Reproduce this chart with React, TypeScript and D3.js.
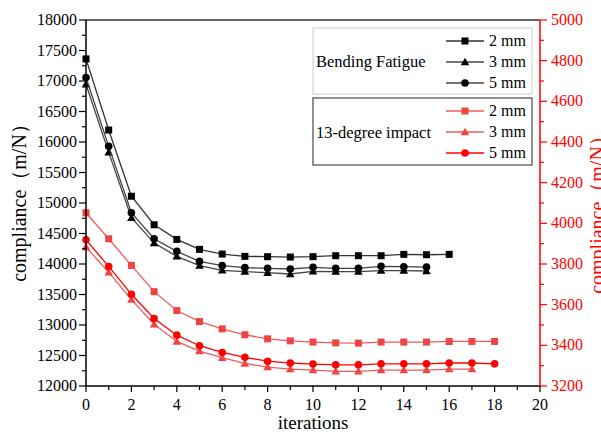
import React from "react";
import * as d3 from "d3";

const iterBlack2 = d3.range(0, 17);
const iterBlack35 = d3.range(0, 16);
const iterRed25 = d3.range(0, 19);
const iterRed3 = d3.range(0, 18);

const bend2 = [17362, 16196, 15111, 14643, 14403, 14240, 14163, 14125, 14120, 14114, 14120, 14136, 14136, 14136, 14158, 14152, 14158];
const bend3 = [16948, 15830, 14758, 14343, 14125, 13973, 13896, 13875, 13858, 13836, 13880, 13875, 13875, 13891, 13891, 13885];
const bend5 = [17057, 15929, 14840, 14414, 14207, 14043, 13973, 13940, 13929, 13918, 13945, 13929, 13929, 13962, 13956, 13950];

const imp2 = [4052, 3924, 3793, 3664, 3571, 3517, 3481, 3452, 3432, 3422, 3416, 3412, 3411, 3416, 3416, 3416, 3419, 3419, 3419];
const imp3 = [3883, 3759, 3625, 3504, 3419, 3372, 3339, 3311, 3293, 3283, 3278, 3272, 3272, 3278, 3278, 3278, 3283, 3283];
const imp5 = [3919, 3788, 3651, 3532, 3450, 3398, 3365, 3341, 3322, 3313, 3308, 3304, 3304, 3309, 3309, 3309, 3313, 3313, 3309];

const xTicks = d3.range(0, 21, 2);
const leftTicks = d3.range(12000, 18001, 500);
const rightTicks = d3.range(3200, 5001, 200);
const legendLabels = ["2 mm", "3 mm", "5 mm"];

const FONT = "'Liberation Serif', 'Times New Roman', serif";

const L = 86, R = 540, T = 20, B = 386;

type Series = { xs: number[]; ys: number[]; axis: "l" | "r"; line: string; fill: string; marker: string };

export default function App() {
  const x = d3.scaleLinear().domain([0, 20]).range([L, R]);
  const yl = d3.scaleLinear().domain([12000, 18000]).range([B, T]);
  const yr = d3.scaleLinear().domain([3200, 5000]).range([B, T]);

  const series: Series[] = [
    { xs: iterBlack2, ys: bend2, axis: "l", line: "#333", fill: "#000", marker: "square" },
    { xs: iterBlack35, ys: bend3, axis: "l", line: "#444", fill: "#000", marker: "triangle" },
    { xs: iterBlack35, ys: bend5, axis: "l", line: "#444", fill: "#000", marker: "circle" },
    { xs: iterRed25, ys: imp2, axis: "r", line: "#f05a5a", fill: "#ee4444", marker: "square" },
    { xs: iterRed3, ys: imp3, axis: "r", line: "#f05a5a", fill: "#ee4444", marker: "triangle" },
    { xs: iterRed25, ys: imp5, axis: "r", line: "#ff0000", fill: "#ff0000", marker: "circle" },
  ];

  const marker = (type: string, cx: number, cy: number, fill: string, key: any) => {
    if (type === "square") return <rect key={key} x={cx - 3.5} y={cy - 3.5} width={7} height={7} fill={fill} />;
    if (type === "circle") return <circle key={key} cx={cx} cy={cy} r={3.8} fill={fill} />;
    const s = 4.3;
    return <path key={key} d={`M${cx},${cy - s}L${cx + s},${cy + s * 0.75}L${cx - s},${cy + s * 0.75}Z`} fill={fill} />;
  };

  const lineGen = (s: Series) =>
    d3.line<number>()
      .x((_, i) => x(s.xs[i]))
      .y((v) => (s.axis === "l" ? yl(v) : yr(v)))(s.ys) || "";

  const leftMinor = d3.range(12000, 18001, 250).filter((v) => v % 500 !== 0);
  const rightMinor = d3.range(3200, 5001, 100).filter((v) => v % 200 !== 0);
  const xMinor = d3.range(1, 20, 2);

  const legendRowsY = [41, 62, 83, 111, 132, 153];

  return (
    <svg width={601} height={432} style={{ position: "absolute", left: 0, top: 0, background: "#fff" }} fontFamily={FONT}>
      <rect width={601} height={432} fill="#fff" />
      {series.map((s, i) => (
        <g key={i}>
          <path d={lineGen(s)} fill="none" stroke={s.line} strokeWidth={1.3} />
          {s.ys.map((v, j) => marker(s.marker, x(s.xs[j]), s.axis === "l" ? yl(v) : yr(v), s.fill, j))}
        </g>
      ))}
      <line x1={L} x2={R} y1={T} y2={T} stroke="#333" strokeWidth={1.3} />
      <line x1={L} x2={R} y1={B} y2={B} stroke="#000" strokeWidth={1.5} />
      <line x1={L} x2={L} y1={T} y2={B} stroke="#000" strokeWidth={1.5} />
      <line x1={R} x2={R} y1={T} y2={B} stroke="#ff0000" strokeWidth={1.5} />
      {leftTicks.map((v) => (
        <g key={v}>
          <line x1={L - 7} x2={L} y1={yl(v)} y2={yl(v)} stroke="#000" strokeWidth={1.2} />
          <text x={L - 9} y={yl(v) + 5} textAnchor="end" fontSize={16} fill="#000">{v}</text>
        </g>
      ))}
      {leftMinor.map((v) => (
        <line key={v} x1={L - 4} x2={L} y1={yl(v)} y2={yl(v)} stroke="#000" strokeWidth={1.2} />
      ))}
      {rightTicks.map((v) => (
        <g key={v}>
          <line x1={R} x2={R + 7} y1={yr(v)} y2={yr(v)} stroke="#ff0000" strokeWidth={1.2} />
          <text x={R + 11} y={yr(v) + 5} textAnchor="start" fontSize={16} fill="#ff0000">{v}</text>
        </g>
      ))}
      {rightMinor.map((v) => (
        <line key={v} x1={R} x2={R + 4} y1={yr(v)} y2={yr(v)} stroke="#ff0000" strokeWidth={1.2} />
      ))}
      {xTicks.map((v) => (
        <g key={v}>
          <line x1={x(v)} x2={x(v)} y1={B} y2={B + 6} stroke="#000" strokeWidth={1.2} />
          <text x={x(v)} y={410} textAnchor="middle" fontSize={16} fill="#000">{v}</text>
        </g>
      ))}
      {xMinor.map((v) => (
        <line key={v} x1={x(v)} x2={x(v)} y1={B} y2={B + 4} stroke="#000" strokeWidth={1.2} />
      ))}
      <text x={(L + R) / 2} y={429} textAnchor="middle" fontSize={19} fill="#000">iterations</text>
      <text transform="translate(26,198) rotate(-90)" textAnchor="middle" fontSize={20} fill="#000">compliance（m/N）</text>
      <text transform="translate(604,210) rotate(-90)" textAnchor="middle" fontSize={20} fill="#ff0000">compliance（m/N）</text>
      <rect x={313} y={28} width={219} height={66} fill="#fff" stroke="#ccc" strokeWidth={1} />
      <rect x={313} y={98} width={219} height={67} fill="#fff" stroke="#555" strokeWidth={1.3} />
      <text x={316} y={67} fontSize={16.5} fill="#000">Bending Fatigue</text>
      <text x={316} y={138} fontSize={16.5} fill="#000">13-degree impact</text>
      {legendRowsY.map((ly, i) => {
        const s = series[i];
        return (
          <g key={i}>
            <line x1={446} x2={484} y1={ly} y2={ly} stroke={s.line} strokeWidth={1.3} />
            {marker(s.marker, 465, ly, s.fill, "m")}
            <text x={489} y={ly + 5} fontSize={16} fill="#000">{legendLabels[i % 3]}</text>
          </g>
        );
      })}
    </svg>
  );
}
